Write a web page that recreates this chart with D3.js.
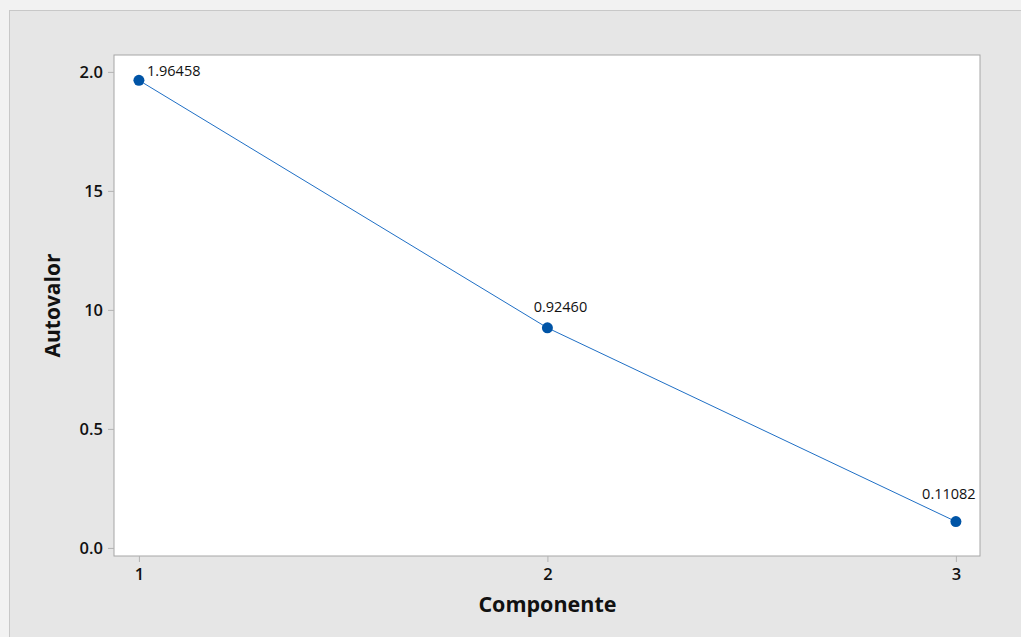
<!DOCTYPE html>
<html>
<head>
<meta charset="utf-8">
<script src="https://cdn.jsdelivr.net/npm/d3@7"></script>
<style>
  html, body { margin: 0; padding: 0; background: #f2f2f2; }
  svg { display: block; }
  text { font-family: "Open Sans", "Noto Sans", sans-serif; fill: #111111; }
</style>
</head>
<body>
<script>
// Scree plot: eigenvalue per principal component
const components = [1, 2, 3];
const eigenvalues = [1.96458, 0.92460, 0.11082];
const valueLabels = ["1.96458", "0.92460", "0.11082"];
const yTickValues = [0.0, 0.5, 1.0, 1.5, 2.0];
const yTickLabels = ["0.0", "0.5", "10", "15", "2.0"];
const xTickValues = [1, 2, 3];
const xTickLabels = ["1", "2", "3"];

const W = 1021, H = 637;
const plot = { left: 114, top: 55, right: 980, bottom: 556 };

const svg = d3.select("body").append("svg")
  .attr("width", W).attr("height", H);

// outer panel
svg.append("rect")
  .attr("x", 9.5).attr("y", 10.5)
  .attr("width", W).attr("height", H)
  .attr("fill", "#e6e6e6").attr("stroke", "#c8c8c8");

// plotting area
svg.append("rect")
  .attr("x", plot.left).attr("y", plot.top)
  .attr("width", plot.right - plot.left).attr("height", plot.bottom - plot.top)
  .attr("fill", "#ffffff").attr("stroke", "#a6a6a6").attr("stroke-width", 1);

const x = d3.scaleLinear().domain([0.939, 3.059]).range([plot.left, plot.right]);
const y = d3.scaleLinear().domain([-0.034, 2.071]).range([plot.bottom, plot.top]);

// y axis
const yAxis = d3.axisLeft(y)
  .tickValues(yTickValues)
  .tickFormat((d, i) => yTickLabels[i])
  .tickSize(6).tickPadding(5);
const gy = svg.append("g").attr("transform", `translate(${plot.left},0)`).call(yAxis);
gy.select(".domain").remove();
gy.selectAll(".tick line").attr("stroke", "#b3b3b3");
gy.selectAll(".tick text").attr("font-size", 16.5).attr("font-weight", 600)
  .style("fill", "#111111").attr("dy", "0.35em");

// x axis
const xAxis = d3.axisBottom(x)
  .tickValues(xTickValues)
  .tickFormat((d, i) => xTickLabels[i])
  .tickSize(6).tickPadding(6);
const gx = svg.append("g").attr("transform", `translate(0,${plot.bottom})`).call(xAxis);
gx.select(".domain").remove();
gx.selectAll(".tick line").attr("stroke", "#b3b3b3");
gx.selectAll(".tick text").attr("font-size", 16.5).attr("font-weight", 600)
  .style("fill", "#111111");

// axis titles
svg.append("text")
  .attr("x", (x(1) + x(3)) / 2).attr("y", 612)
  .attr("text-anchor", "middle")
  .attr("font-size", 21.5).attr("font-weight", 700)
  .text("Componente");
svg.append("text")
  .attr("transform", `translate(60,${(plot.top + plot.bottom) / 2}) rotate(-90)`)
  .attr("text-anchor", "middle")
  .attr("font-size", 21).attr("font-weight", 700)
  .text("Autovalor");

const pts = components.map((c, i) => ({ c, v: eigenvalues[i], label: valueLabels[i] }));

// connecting line
svg.append("path")
  .datum(pts)
  .attr("fill", "none")
  .attr("stroke", "#1f6fc5")
  .attr("stroke-width", 1)
  .attr("d", d3.line().x(d => x(d.c)).y(d => y(d.v)));

// markers
svg.selectAll("circle.pt").data(pts).enter().append("circle")
  .attr("class", "pt")
  .attr("cx", d => x(d.c)).attr("cy", d => y(d.v))
  .attr("r", 5.5)
  .attr("fill", "#0054a6");

// value labels
const labelPlacement = [
  { dx: 8, dy: -9, anchor: "start" },
  { dx: 13, dy: -21, anchor: "middle" },
  { dx: -7, dy: -28, anchor: "middle" }
];
svg.selectAll("text.val").data(pts).enter().append("text")
  .attr("class", "val")
  .attr("x", (d, i) => x(d.c) + labelPlacement[i].dx)
  .attr("y", (d, i) => y(d.v) + labelPlacement[i].dy)
  .attr("dy", "0.35em")
  .attr("text-anchor", (d, i) => labelPlacement[i].anchor)
  .attr("font-size", 14.5)
  .text(d => d.label);
</script>
</body>
</html>
